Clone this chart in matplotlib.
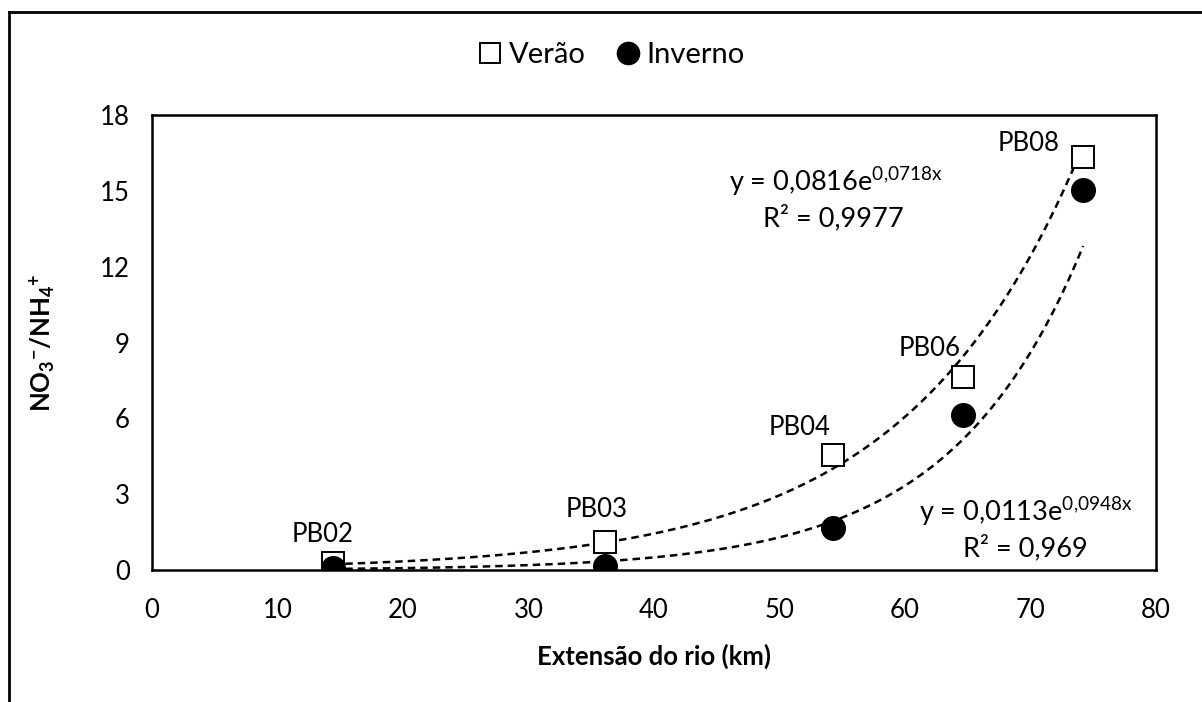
import numpy as np
import matplotlib.pyplot as plt
from matplotlib.lines import Line2D

plt.rcParams['font.family'] = ['Lato', 'DejaVu Sans']
plt.rcParams['mathtext.fontset'] = 'custom'
plt.rcParams['mathtext.rm'] = 'Lato'
plt.rcParams['mathtext.bf'] = 'Lato:bold'
plt.rcParams['mathtext.it'] = 'Lato:italic'

# distance along the river (km) and NO3-/NH4+ ratio per station
stations = ['PB02', 'PB03', 'PB04', 'PB06', 'PB08']
km = [14.4, 36.1, 54.3, 64.6, 74.2]
verao = [0.28, 1.12, 4.55, 7.63, 16.36]
inverno = [0.08, 0.17, 1.66, 6.13, 15.02]

# exponential fits y = a*exp(b*x)
fit_verao = (0.0816, 0.0718, 0.9977)
fit_inverno = (0.0113, 0.0948, 0.969)

fig = plt.figure(figsize=(12.02, 7.02), dpi=100)
ax = fig.add_axes([0.1265, 0.188, 0.8352, 0.648])

xx = np.linspace(km[0], km[-1], 200)
for a, b, r2 in [fit_verao, fit_inverno]:
    ax.plot(xx, a * np.exp(b * xx), color='black', lw=1.8, ls=(0, (3, 2)), zorder=2)

ax.plot(km, verao, ls='none', marker='s', ms=16, mfc='white', mec='black', mew=1.4, zorder=3)
ax.plot(km, inverno, ls='none', marker='o', ms=17, mfc='black', mec='black', zorder=4)

# station names next to the summer points
offsets = {'PB02': (-10, 28), 'PB03': (-8, 32), 'PB04': (-34, 28), 'PB06': (-33, 29), 'PB08': (-55, 13)}
for name, x, y in zip(stations, km, verao):
    ax.annotate(name, (x, y), xytext=offsets[name], textcoords='offset pixels',
                ha='center', va='center', fontsize=18.5)

ax.text(54.5, 15.35, r'y = 0,0816e$^{\mathrm{0{,}0718x}}$', ha='center', va='center', fontsize=19.5)
ax.text(54.3, 13.95, 'R² = 0,9977', ha='center', va='center', fontsize=19.5)
ax.text(69.6, 2.3, r'y = 0,0113e$^{\mathrm{0{,}0948x}}$', ha='center', va='center', fontsize=19.5)
ax.text(69.6, 0.88, 'R² = 0,969', ha='center', va='center', fontsize=19.5)

ax.set_xlim(0, 80)
ax.set_ylim(0, 18)
ax.set_xticks(range(0, 81, 10))
ax.set_yticks(range(0, 19, 3))
ax.tick_params(length=0, labelsize=18.5)
ax.tick_params(axis='x', pad=20)
ax.tick_params(axis='y', pad=16)
for s in ax.spines.values():
    s.set_linewidth(1.8)

ax.set_xlabel('Extensão do rio (km)', fontsize=18.5, fontweight='bold', labelpad=15)
ax.set_ylabel(r'$\mathbf{NO_3}$$^{\mathbf{{-}}}$$\mathbf{/NH_4}$$^{\mathbf{{+}}}$', fontsize=18.5,
              fontweight='bold', labelpad=30)

handles = [
    Line2D([], [], ls='none', marker='s', ms=15, mfc='white', mec='black', mew=1.4),
    Line2D([], [], ls='none', marker='o', ms=16, mfc='black', mec='black'),
]
fig.legend(handles, ['Verão', 'Inverno'], loc='center', bbox_to_anchor=(0.508, 0.921),
           ncol=2, frameon=False, fontsize=21, handletextpad=0.2, columnspacing=1.0,
           handlelength=0.9)

# outer frame
fig.add_artist(Line2D([0.0075, 0.0075], [0, 0.983], transform=fig.transFigure, color='black', lw=2))
fig.add_artist(Line2D([0.0075, 1.0], [0.983, 0.983], transform=fig.transFigure, color='black', lw=2))

fig.savefig('out.png', dpi=100)
